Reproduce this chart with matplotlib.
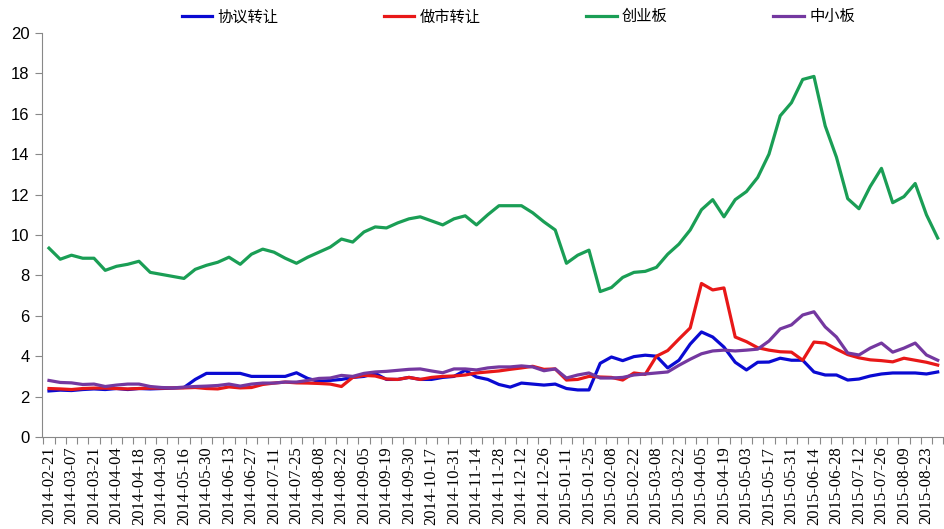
import matplotlib
matplotlib.use("Agg")
import matplotlib.pyplot as plt
from matplotlib.ticker import FixedLocator, NullFormatter

plt.rcParams['font.family'] = ['Noto Sans CJK SC', 'DejaVu Sans']

dates = [
    "2014-02-21", "2014-02-28", "2014-03-07", "2014-03-14", "2014-03-21", "2014-03-28",
    "2014-04-04", "2014-04-11", "2014-04-18", "2014-04-25", "2014-04-30", "2014-05-09",
    "2014-05-16", "2014-05-23", "2014-05-30", "2014-06-06", "2014-06-13", "2014-06-20",
    "2014-06-27", "2014-07-04", "2014-07-11", "2014-07-18", "2014-07-25", "2014-08-01",
    "2014-08-08", "2014-08-15", "2014-08-22", "2014-08-29", "2014-09-05", "2014-09-12",
    "2014-09-19", "2014-09-26", "2014-09-30", "2014-10-10", "2014-10-17", "2014-10-24",
    "2014-10-31", "2014-11-07", "2014-11-14", "2014-11-21", "2014-11-28", "2014-12-05",
    "2014-12-12", "2014-12-19", "2014-12-26", "2015-01-04", "2015-01-11", "2015-01-18",
    "2015-01-25", "2015-02-01", "2015-02-08", "2015-02-15", "2015-02-22", "2015-03-01",
    "2015-03-08", "2015-03-15", "2015-03-22", "2015-03-29", "2015-04-05", "2015-04-12",
    "2015-04-19", "2015-04-26", "2015-05-03", "2015-05-10", "2015-05-17", "2015-05-24",
    "2015-05-31", "2015-06-07", "2015-06-14", "2015-06-21", "2015-06-28", "2015-07-05",
    "2015-07-12", "2015-07-19", "2015-07-26", "2015-08-02", "2015-08-09", "2015-08-16",
    "2015-08-23", "2015-08-30",
]

xieyi = [
    2.28, 2.32, 2.30, 2.35, 2.38, 2.35, 2.40, 2.35, 2.40, 2.38,
    2.40, 2.42, 2.45, 2.85, 3.15, 3.15, 3.15, 3.15, 3.00, 3.00,
    3.00, 3.00, 3.18, 2.90, 2.75, 2.80, 2.85, 2.95, 3.00, 3.15,
    2.85, 2.85, 2.95, 2.85, 2.85, 2.95, 3.00, 3.30, 2.97, 2.85,
    2.60, 2.47, 2.67, 2.62, 2.57, 2.62, 2.40, 2.33, 2.33, 3.65,
    3.96, 3.78, 3.98, 4.05, 4.00, 3.42, 3.80, 4.60, 5.20, 4.95,
    4.45, 3.70, 3.32, 3.70, 3.71, 3.90, 3.80, 3.80, 3.22, 3.07,
    3.07, 2.82, 2.87, 3.02, 3.12, 3.17, 3.17, 3.17, 3.12, 3.22,
]

zuoshi = [
    2.40, 2.38, 2.35, 2.40, 2.42, 2.42, 2.40, 2.38, 2.40, 2.42,
    2.42, 2.43, 2.43, 2.45, 2.40, 2.38, 2.48, 2.43, 2.45, 2.60,
    2.67, 2.72, 2.68, 2.67, 2.65, 2.62, 2.50, 2.95, 3.05, 3.02,
    2.87, 2.85, 2.95, 2.85, 2.95, 3.00, 3.02, 3.07, 3.17, 3.22,
    3.27, 3.35, 3.42, 3.50, 3.35, 3.37, 2.82, 2.85, 3.00, 2.97,
    2.95, 2.82, 3.17, 3.10, 4.00, 4.28, 4.85, 5.40, 7.60, 7.28,
    7.38, 4.95, 4.72, 4.42, 4.30, 4.22, 4.20, 3.80, 4.70, 4.65,
    4.35, 4.08, 3.92, 3.82, 3.78, 3.72, 3.90, 3.80, 3.70, 3.56,
]

chuangye = [
    9.35, 8.80, 9.00, 8.85, 8.85, 8.25, 8.45, 8.55, 8.70, 8.15,
    8.05, 7.95, 7.85, 8.30, 8.50, 8.65, 8.90, 8.55, 9.05, 9.30,
    9.15, 8.85, 8.60, 8.90, 9.15, 9.40, 9.80, 9.65, 10.15, 10.40,
    10.35, 10.60, 10.80, 10.90, 10.70, 10.50, 10.80, 10.95, 10.50, 11.00,
    11.45, 11.45, 11.45, 11.10, 10.65, 10.25, 8.60, 9.00, 9.25, 7.20,
    7.40, 7.90, 8.15, 8.20, 8.40, 9.05, 9.55, 10.25, 11.25, 11.75,
    10.90, 11.75, 12.15, 12.85, 14.00, 15.90, 16.55, 17.70, 17.85, 15.40,
    13.85, 11.80, 11.30, 12.40, 13.30, 11.60, 11.90, 12.55, 11.00, 9.85,
]

zhongxiao = [
    2.80, 2.70, 2.68, 2.60, 2.62, 2.50, 2.57, 2.62, 2.62, 2.50,
    2.45, 2.43, 2.47, 2.50, 2.52, 2.55, 2.62, 2.52, 2.62, 2.67,
    2.67, 2.72, 2.72, 2.80, 2.90, 2.92, 3.05, 3.00, 3.15, 3.22,
    3.25, 3.30, 3.35, 3.37, 3.27, 3.18, 3.37, 3.37, 3.32, 3.42,
    3.47, 3.47, 3.52, 3.47, 3.28, 3.37, 2.92, 3.07, 3.17, 2.92,
    2.92, 2.95, 3.07, 3.12, 3.17, 3.22, 3.55, 3.85, 4.12, 4.26,
    4.30, 4.26, 4.30, 4.35, 4.75, 5.35, 5.55, 6.04, 6.20, 5.45,
    4.95, 4.16, 4.06, 4.40, 4.65, 4.20, 4.40, 4.65, 4.06, 3.80,
]

series_names = ["协议转让", "做市转让", "创业板", "中小板"]
series_values = [xieyi, zuoshi, chuangye, zhongxiao]
colors = ["#0a0ad2", "#e81818", "#1a9e55", "#7438a0"]

fig = plt.figure(figsize=(9.44, 5.29), dpi=100)
ax = fig.add_axes([42 / 944, 1 - 437 / 529, (944 - 42) / 944, (437 - 33) / 529])

x = list(range(len(dates)))
handles = []
for name, vals, c in zip(series_names, series_values, colors):
    h, = ax.plot(x, vals, color=c, lw=2.3, label=name, solid_joinstyle='round')
    handles.append(h)

ax.set_ylim(0, 20)
ax.set_yticks(range(0, 21, 2))
ax.set_xlim(-0.62, 79.56)

major = list(range(0, len(dates), 2))
ax.xaxis.set_major_locator(FixedLocator(major))
ax.set_xticklabels([dates[i] for i in major], rotation=90,
                   family=['Liberation Serif', 'DejaVu Serif'], fontsize=12)
ax.xaxis.set_minor_locator(FixedLocator([i + 0.5 for i in range(-1, len(dates))]))
ax.xaxis.set_minor_formatter(NullFormatter())
ax.tick_params(axis='x', which='major', length=0, pad=7)
ax.tick_params(axis='x', which='minor', length=5, color='#888888', width=0.8)
ax.tick_params(axis='y', length=5, color='#888888', width=0.8, pad=4)
for lab in ax.get_yticklabels():
    lab.set_family(['Liberation Sans Narrow', 'Liberation Sans', 'DejaVu Sans'])
    lab.set_fontsize(12)

for s in ['top', 'right']:
    ax.spines[s].set_visible(False)
for s in ['left', 'bottom']:
    ax.spines[s].set_color('#888888')
    ax.spines[s].set_linewidth(0.8)

fig.legend(handles=handles, labels=series_names, loc='center',
           bbox_to_anchor=(0.549, 0.968), ncol=4, frameon=False,
           columnspacing=6.9, handlelength=2.0, handletextpad=0.35,
           prop={'family': ['Noto Sans CJK SC', 'DejaVu Sans'], 'size': 11})

fig.savefig("out.png", dpi=100)
